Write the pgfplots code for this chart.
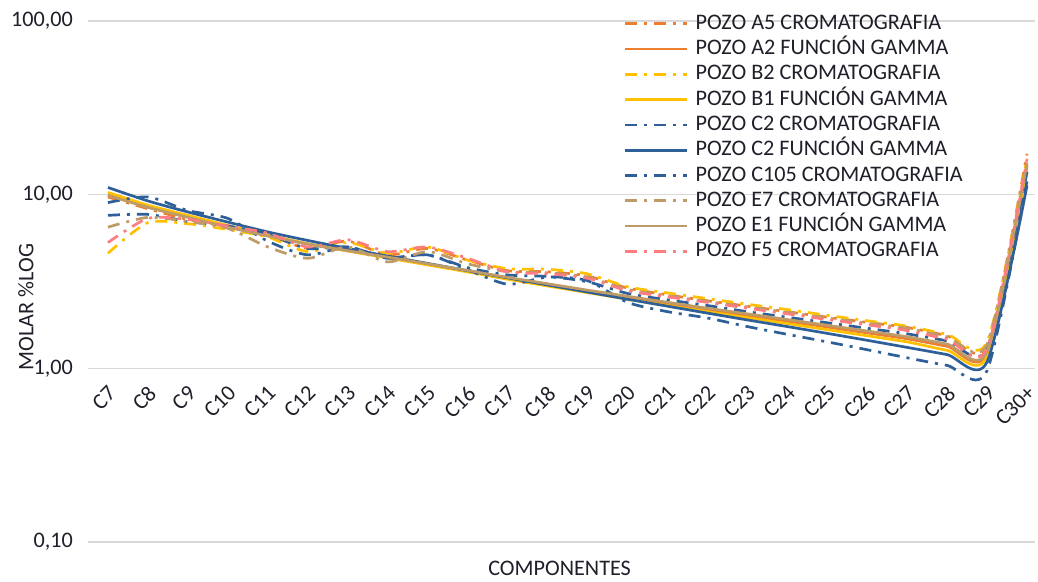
\documentclass[border=0pt]{standalone}
\usepackage{fontspec}
\setmainfont{Carlito}
\usepackage{pgfplots}
\usepackage{pgfplotstable}
\pgfplotsset{compat=1.18}
\definecolor{cOr}{HTML}{ED7D31}
\definecolor{cYe}{HTML}{FFC000}
\definecolor{cBl}{HTML}{2E5F98}
\definecolor{cTa}{HTML}{BF9B67}
\definecolor{cPi}{HTML}{FF7C80}
\definecolor{cGr}{HTML}{D9D9D9}
\definecolor{cTx}{HTML}{1F1F2A}
\pgfplotstableread{
i  A5   A2    B2   B1    C2c  C2g   C105 E7   E1    F5
0  9.7  10.0  4.6  10.3  7.6  11.0  9.0  6.5  9.9   5.3
1  8.3  8.5   6.9  8.7   7.7  9.2   9.7  7.4  8.45  7.3
2  7.2  7.45  6.8  7.6   7.0  7.95  8.1  7.0  7.4   7.2
3  6.6  6.55  6.3  6.65  6.6  6.95  7.3  6.4  6.5   6.6
4  5.9  5.8   5.7  5.85  5.9  6.1   5.4  5.0  5.78  6.0
5  4.9  5.2   4.7  5.22  4.9  5.45  4.5  4.3  5.2   5.0
6  5.4  4.75  5.3  4.74  5.0  4.9   5.0  5.0  4.76  5.5
7  4.5  4.35  4.6  4.32  4.35 4.43  4.3  4.1  4.37  4.7
8  4.9  3.98  5.0  3.94  4.5  4.02  4.5  4.7  4.0   5.0
9  4.2  3.63  4.2  3.59  3.8  3.65  3.7  4.0  3.66  4.3
10 3.65 3.3   3.75 3.26  3.45 3.32  3.05 3.6  3.34  3.6
11 3.6  3.03  3.72 2.98  3.38 3.02  3.35 3.55 3.07  3.5
12 3.4  2.78  3.5  2.73  3.15 2.75  3.2  3.35 2.82  3.3
13 2.9  2.56  2.95 2.5   2.7  2.5   2.4  2.85 2.6   2.8
14 2.65 2.36  2.72 2.3   2.48 2.28  2.12 2.62 2.4   2.58
15 2.45 2.18  2.52 2.12  2.3  2.08  1.95 2.43 2.22  2.4
16 2.28 2.02  2.34 1.96  2.12 1.9   1.74 2.26 2.06  2.22
17 2.12 1.87  2.18 1.81  1.97 1.74  1.57 2.1  1.91  2.06
18 1.97 1.73  2.02 1.67  1.83 1.59  1.42 1.95 1.77  1.91
19 1.84 1.6   1.88 1.54  1.7  1.45  1.28 1.82 1.64  1.78
20 1.72 1.48  1.75 1.42  1.58 1.32  1.15 1.7  1.52  1.65
21 1.54 1.34  1.57 1.27  1.44 1.2   1.04 1.52 1.38  1.47
22 1.36 1.22  1.42 1.17  1.3  1.09  0.97 1.38 1.25  1.3
23 17.2 14.6  16.2 13.8  13.5 11.3  12.0 15.5 15.2  16.0
}\data
\begin{document}
\fontsize{22.2}{26}\selectfont
\color{cTx}
\begin{tikzpicture}
\begin{axis}[
  name=ax,
  scale only axis, width=947pt, height=521pt,
  ymode=log, ymin=0.1, ymax=100,
  xmin=-0.5, xmax=23.2,
  axis x line*=middle, axis y line*=left,
  axis line style={draw=none},
  major tick length=0pt, minor tick length=0pt,
  xtick={0,...,23},
  xticklabels={C7,C8,C9,C10,C11,C12,C13,C14,C15,C16,C17,C18,C19,C20,C21,C22,C23,C24,C25,C26,C27,C28,C29,C30+},
  xticklabel style={rotate=45, anchor=north east, inner sep=1pt, xshift=-11pt, yshift=-9.5pt, font=\fontsize{22.2}{26}\selectfont},
  ytick={0.1,1,10,100},
  yticklabels={{0,10},{1,00},{10,00},{100,00}},
  yticklabel style={anchor=east, inner sep=0pt, xshift=-15pt, font=\fontsize{22.2}{26}\selectfont},
  yminorgrids=false, ymajorgrids,
  grid style={draw=cGr, line width=1.6pt},
  ylabel={MOLAR \%LOG},
  ylabel style={at={(axis description cs:-0.0655,0.451)}, anchor=center, font=\fontsize{22.2}{26}\selectfont},
  xlabel={COMPONENTES},
  xlabel style={at={(axis description cs:0.498,-0.0515)}, anchor=center, font=\fontsize{22.2}{26}\selectfont},
  legend style={at={(axis description cs:0.566,1.013)}, anchor=north west, draw=none, fill=none,
    inner sep=0pt, outer sep=0pt, row sep=6.3pt, column sep=7pt,
    nodes={inner sep=0pt, text height=15pt, text depth=4pt},
    font=\fontsize{22.2}{26}\selectfont},
  legend cell align=left,
  legend image code/.code={\draw[#1] (0pt,0pt) -- (62pt,0pt);},
  every axis plot/.append style={line width=2.7pt, smooth, tension=0.45},
  clip=false,
]
\pgfplotsset{dd/.style={dash pattern=on 12pt off 7pt on 3pt off 7pt}}
\addplot[cOr, dd] table[x=i, y=A5] {\data};
\addlegendentry{POZO A5 CROMATOGRAFIA}
\addplot[cOr] table[x=i, y=A2] {\data};
\addlegendentry{POZO A2 FUNCIÓN GAMMA}
\addplot[cYe, dd] table[x=i, y=B2] {\data};
\addlegendentry{POZO B2 CROMATOGRAFIA}
\addplot[cYe] table[x=i, y=B1] {\data};
\addlegendentry{POZO B1 FUNCIÓN GAMMA}
\addplot[cBl, dd] table[x=i, y=C2c] {\data};
\addlegendentry{POZO C2 CROMATOGRAFIA}
\addplot[cBl] table[x=i, y=C2g] {\data};
\addlegendentry{POZO C2 FUNCIÓN GAMMA}
\addplot[cBl, dd] table[x=i, y=C105] {\data};
\addlegendentry{POZO C105 CROMATOGRAFIA}
\addplot[cTa, dd] table[x=i, y=E7] {\data};
\addlegendentry{POZO E7 CROMATOGRAFIA}
\addplot[cTa] table[x=i, y=E1] {\data};
\addlegendentry{POZO E1 FUNCIÓN GAMMA}
\addplot[cPi, dd] table[x=i, y=F5] {\data};
\addlegendentry{POZO F5 CROMATOGRAFIA}
\end{axis}
\pgfresetboundingbox
\path ([shift={(-88pt,-39pt)}]ax.south west) rectangle ([shift={(3pt,21pt)}]ax.north east);
\end{tikzpicture}
\end{document}
